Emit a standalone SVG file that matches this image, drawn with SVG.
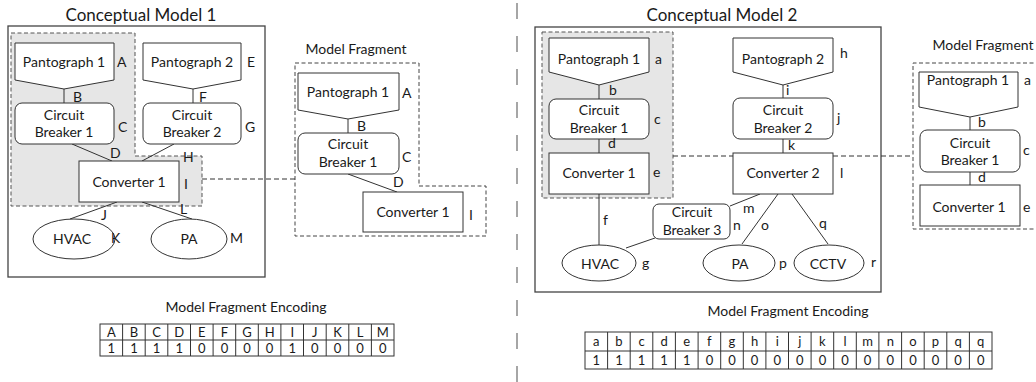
<svg xmlns="http://www.w3.org/2000/svg" width="1036" height="382" viewBox="0 0 1036 382">
<defs>
<style>
text{font-family:Lato,"Liberation Sans",sans-serif;fill:#1a1a1a;font-size:14px}
.title{font-size:17px;text-anchor:middle}
.c{text-anchor:middle}
.cell{font-size:13px;text-anchor:middle}
.node{fill:#fff;stroke:#333;stroke-width:1}
.outer{fill:none;stroke:#444;stroke-width:1.3}
.grey{fill:#e6e6e6;stroke:#555;stroke-width:1;stroke-dasharray:4 2.5}
.frag{fill:none;stroke:#444;stroke-width:1;stroke-dasharray:4 2.5}
.ln{stroke:#333;stroke-width:1;fill:none}
.dl{stroke:#333;stroke-width:1;fill:none;stroke-dasharray:5 3}
.sep{stroke:#777;stroke-width:1.3;stroke-dasharray:16 17}
.tbl{fill:none;stroke:#333;stroke-width:1}
</style>
</defs>
<line class="sep" x1="517" y1="3" x2="517" y2="382"/>

<g id="model1">
<text class="title" x="141" y="21">Conceptual Model 1</text>
<rect class="outer" x="8" y="26" width="257" height="251"/>
<polygon class="grey" points="11,33 135,33 135,156 202,156 202,206 11,206"/>
</g>
<g id="fragment1">
<text class="c" x="356" y="54">Model Fragment</text>
<polygon class="frag" points="295,63 419,63 419,186 486,186 486,236 295,236"/>
</g>
<g id="model2">
<text class="title" x="722" y="21">Conceptual Model 2</text>
<rect class="outer" x="535" y="27" width="346" height="265"/>
<rect class="grey" x="542" y="32" width="131" height="166"/>
</g>
<g id="fragment2">
<text class="c" x="983" y="50">Model Fragment</text>
<polyline class="frag" points="1040,63 913,63 913,229 1040,229"/>
</g>

<g id="connectors">
<line class="ln" x1="64" y1="89" x2="64" y2="103"/>
<line class="ln" x1="193" y1="89" x2="193" y2="103"/>
<line class="ln" x1="72" y1="144" x2="112" y2="161"/>
<line class="ln" x1="174" y1="144" x2="142" y2="161"/>
<line class="ln" x1="117" y1="202" x2="70" y2="219"/>
<line class="ln" x1="142" y1="202" x2="192" y2="219"/>
<line class="dl" x1="202" y1="179" x2="295" y2="179"/>
<line class="ln" x1="348" y1="119" x2="348" y2="133"/>
<line class="ln" x1="348" y1="174" x2="397" y2="192"/>
<line class="ln" x1="599" y1="85" x2="599" y2="99"/>
<line class="ln" x1="599" y1="139" x2="599" y2="153"/>
<line class="ln" x1="599" y1="194" x2="599" y2="245"/>
<line class="ln" x1="783" y1="85" x2="783" y2="98"/>
<line class="ln" x1="783" y1="139" x2="783" y2="153"/>
<line class="ln" x1="760" y1="194" x2="730" y2="206"/>
<line class="ln" x1="655" y1="238" x2="626" y2="248"/>
<line class="ln" x1="778" y1="194" x2="742" y2="244"/>
<line class="ln" x1="792" y1="194" x2="828" y2="244"/>
<line class="dl" x1="673" y1="156" x2="913" y2="156"/>
<line class="ln" x1="970" y1="117" x2="970" y2="130"/>
<line class="ln" x1="970" y1="172" x2="970" y2="185"/>
</g>

<g id="m1-pantograph1"><polygon class="node" points="15,43 114,43 114,80 64,89 15,80"/><text class="c" x="64" y="67">Pantograph 1</text></g>
<g id="m1-cb1"><rect class="node" x="15" y="103" width="99" height="41" rx="7"/><text class="c" x="64" y="120">Circuit</text><text class="c" x="64" y="137">Breaker 1</text></g>
<g id="m1-pantograph2"><polygon class="node" points="143,43 241,43 241,80 193,89 143,80"/><text class="c" x="192" y="67">Pantograph 2</text></g>
<g id="m1-cb2"><rect class="node" x="143" y="103" width="98" height="41" rx="7"/><text class="c" x="192" y="120">Circuit</text><text class="c" x="192" y="137">Breaker 2</text></g>
<g id="m1-converter1"><rect class="node" x="79" y="161" width="100" height="41"/><text class="c" x="129" y="187">Converter 1</text></g>
<g id="m1-hvac"><ellipse class="node" cx="74" cy="239" rx="41" ry="20"/><text class="c" x="72" y="244">HVAC</text></g>
<g id="m1-pa"><ellipse class="node" cx="189" cy="239" rx="38" ry="20"/><text class="c" x="189" y="244">PA</text></g>
<g id="m1-labels">
<text x="117" y="67">A</text><text x="73" y="102">B</text><text x="118" y="132">C</text>
<text x="110" y="158">D</text><text x="247" y="67">E</text><text x="199" y="102">F</text>
<text x="245" y="132">G</text><text x="183" y="162">H</text><text x="184" y="189">I</text>
<text x="101" y="220">J</text><text x="111" y="243">K</text><text x="180" y="214">L</text>
<text x="230" y="243">M</text>
</g>

<g id="f1-pantograph1"><polygon class="node" points="298,73 399,73 399,110 348,119 298,110"/><text class="c" x="348" y="97">Pantograph 1</text></g>
<g id="f1-cb1"><rect class="node" x="298" y="133" width="101" height="41" rx="7"/><text class="c" x="348" y="149">Circuit</text><text class="c" x="348" y="167">Breaker 1</text></g>
<g id="f1-converter1"><rect class="node" x="363" y="192" width="100" height="40"/><text class="c" x="413" y="217">Converter 1</text></g>
<g id="f1-labels">
<text x="402" y="98">A</text><text x="357" y="131">B</text><text x="402" y="162">C</text>
<text x="393" y="187">D</text><text x="469" y="220">I</text>
</g>

<g id="m2-pantograph1"><polygon class="node" points="549,38 649,38 649,72 599,85 549,72"/><text class="c" x="599" y="64">Pantograph 1</text></g>
<g id="m2-cb1"><rect class="node" x="549" y="99" width="100" height="40" rx="7"/><text class="c" x="599" y="115">Circuit</text><text class="c" x="599" y="133">Breaker 1</text></g>
<g id="m2-converter1"><rect class="node" x="549" y="153" width="100" height="41"/><text class="c" x="599" y="178">Converter 1</text></g>
<g id="m2-hvac"><ellipse class="node" cx="599" cy="263" rx="37" ry="18"/><text class="c" x="600" y="269">HVAC</text></g>
<g id="m2-cb3"><rect class="node" x="653" y="204" width="77" height="35" rx="6"/><text class="c" x="692" y="217">Circuit</text><text class="c" x="692" y="235">Breaker 3</text></g>
<g id="m2-pantograph2"><polygon class="node" points="733,38 833,38 833,72 783,85 733,72"/><text class="c" x="783" y="64">Pantograph 2</text></g>
<g id="m2-cb2"><rect class="node" x="733" y="98" width="100" height="41" rx="7"/><text class="c" x="783" y="115">Circuit</text><text class="c" x="783" y="133">Breaker 2</text></g>
<g id="m2-converter2"><rect class="node" x="733" y="153" width="100" height="41"/><text class="c" x="783" y="178">Converter 2</text></g>
<g id="m2-pa"><ellipse class="node" cx="739" cy="263" rx="36" ry="18"/><text class="c" x="740" y="269">PA</text></g>
<g id="m2-cctv"><ellipse class="node" cx="829" cy="263" rx="35" ry="18"/><text class="c" x="828" y="269">CCTV</text></g>
<g id="m2-labels">
<text x="655" y="64">a</text><text x="609" y="95">b</text><text x="654" y="124">c</text>
<text x="608" y="148">d</text><text x="653" y="177">e</text><text x="603" y="225">f</text>
<text x="642" y="268">g</text><text x="840" y="58">h</text><text x="786" y="95">i</text>
<text x="837" y="123">j</text><text x="788" y="150">k</text><text x="840" y="178">l</text>
<text x="743" y="213">m</text><text x="733" y="230">n</text><text x="761" y="230">o</text>
<text x="779" y="268">p</text><text x="819" y="228">q</text><text x="871" y="267">r</text>
</g>

<g id="f2-pantograph1"><polygon class="node" points="919,72 1018,72 1018,107 970,117 919,107"/><text class="c" x="968" y="85">Pantograph 1</text></g>
<g id="f2-cb1"><rect class="node" x="920" y="130" width="100" height="42" rx="7"/><text class="c" x="970" y="148">Circuit</text><text class="c" x="970" y="165">Breaker 1</text></g>
<g id="f2-converter1"><rect class="node" x="920" y="185" width="100" height="41"/><text class="c" x="969" y="212">Converter 1</text></g>
<g id="f2-labels">
<text x="1024" y="85">a</text><text x="978" y="127">b</text><text x="1023" y="155">c</text>
<text x="978" y="182">d</text><text x="1023" y="212">e</text>
</g>

<g id="table1">
<text class="c" x="246" y="312">Model Fragment Encoding</text>
<rect class="tbl" x="100" y="324" width="294" height="32"/>
<path class="tbl" d="M100,340H394 M122.6,324V356 M145.2,324V356 M167.8,324V356 M190.5,324V356 M213.1,324V356 M235.7,324V356 M258.3,324V356 M280.9,324V356 M303.5,324V356 M326.2,324V356 M348.8,324V356 M371.4,324V356"/>
<text class="cell" x="111.3" y="337">A</text><text class="cell" x="133.9" y="337">B</text><text class="cell" x="156.5" y="337">C</text><text class="cell" x="179.2" y="337">D</text><text class="cell" x="201.8" y="337">E</text><text class="cell" x="224.4" y="337">F</text><text class="cell" x="247" y="337">G</text><text class="cell" x="269.6" y="337">H</text><text class="cell" x="292.2" y="337">I</text><text class="cell" x="314.8" y="337">J</text><text class="cell" x="337.5" y="337">K</text><text class="cell" x="360.1" y="337">L</text><text class="cell" x="382.7" y="337">M</text>
<text class="cell" x="111.3" y="353">1</text><text class="cell" x="133.9" y="353">1</text><text class="cell" x="156.5" y="353">1</text><text class="cell" x="179.2" y="353">1</text><text class="cell" x="201.8" y="353">0</text><text class="cell" x="224.4" y="353">0</text><text class="cell" x="247" y="353">0</text><text class="cell" x="269.6" y="353">0</text><text class="cell" x="292.2" y="353">1</text><text class="cell" x="314.8" y="353">0</text><text class="cell" x="337.5" y="353">0</text><text class="cell" x="360.1" y="353">0</text><text class="cell" x="382.7" y="353">0</text>
</g>

<g id="table2">
<text class="c" x="788" y="316">Model Fragment Encoding</text>
<rect class="tbl" x="585" y="332" width="407" height="37"/>
<path class="tbl" d="M585,351H992 M607.6,332V369 M630.2,332V369 M652.8,332V369 M675.4,332V369 M698.1,332V369 M720.7,332V369 M743.3,332V369 M765.9,332V369 M788.5,332V369 M811.1,332V369 M833.7,332V369 M856.3,332V369 M878.9,332V369 M901.6,332V369 M924.2,332V369 M946.8,332V369 M969.4,332V369"/>
<text class="cell" x="596.3" y="346">a</text><text class="cell" x="618.9" y="346">b</text><text class="cell" x="641.5" y="346">c</text><text class="cell" x="664.1" y="346">d</text><text class="cell" x="686.8" y="346">e</text><text class="cell" x="709.4" y="346">f</text><text class="cell" x="732" y="346">g</text><text class="cell" x="754.6" y="346">h</text><text class="cell" x="777.2" y="346">i</text><text class="cell" x="799.8" y="346">j</text><text class="cell" x="822.4" y="346">k</text><text class="cell" x="845" y="346">l</text><text class="cell" x="867.6" y="346">m</text><text class="cell" x="890.3" y="346">n</text><text class="cell" x="912.9" y="346">o</text><text class="cell" x="935.5" y="346">p</text><text class="cell" x="958.1" y="346">q</text><text class="cell" x="980.7" y="346">q</text>
<text class="cell" x="596.3" y="365">1</text><text class="cell" x="618.9" y="365">1</text><text class="cell" x="641.5" y="365">1</text><text class="cell" x="664.1" y="365">1</text><text class="cell" x="686.8" y="365">1</text><text class="cell" x="709.4" y="365">0</text><text class="cell" x="732" y="365">0</text><text class="cell" x="754.6" y="365">0</text><text class="cell" x="777.2" y="365">0</text><text class="cell" x="799.8" y="365">0</text><text class="cell" x="822.4" y="365">0</text><text class="cell" x="845" y="365">0</text><text class="cell" x="867.6" y="365">0</text><text class="cell" x="890.3" y="365">0</text><text class="cell" x="912.9" y="365">0</text><text class="cell" x="935.5" y="365">0</text><text class="cell" x="958.1" y="365">0</text><text class="cell" x="980.7" y="365">0</text>
</g>
</svg>
